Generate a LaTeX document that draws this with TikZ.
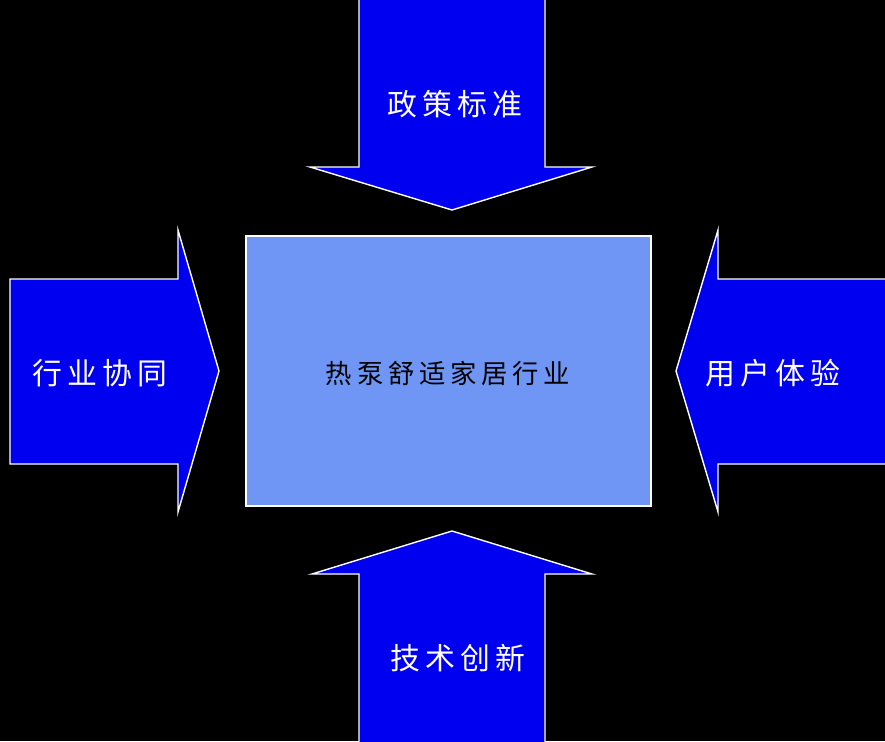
\documentclass[tikz,border=0pt]{standalone}
\usepackage{fontspec}
\newfontfamily\cjk[LetterSpace=18]{Noto Sans CJK SC}
\usetikzlibrary{positioning}
\definecolor{arrowblue}{RGB}{0,0,240}
\definecolor{boxblue}{RGB}{111,150,245}
\tikzset{
  bigarrow/.style={draw=white,fill=arrowblue,line width=0.8pt},
  arrowlabel/.style={text=white,font=\cjk\fontsize{17}{20}\selectfont},
  core/.style={draw=white,fill=boxblue,line width=0.8pt,minimum width=8.1cm,minimum height=5.4cm,font=\cjk\fontsize{15}{18}\selectfont}
}
\begin{document}
\begin{tikzpicture}[x=0.02cm,y=-0.02cm]
  \fill[black] (0,0) rectangle (885,741);
  \useasboundingbox (0,0) rectangle (885,741);

  % centre box
  \node[core] (hub) at (448.5,371) {};
  \node[font=\cjk\fontsize{15}{18}\selectfont] (hubtext) at (448,373) {热泵舒适家居行业};

  % top
  \draw[bigarrow] (359,-2) -- (545,-2) -- (545,167) -- (592,167) -- (452,210)
    -- (310,167) -- (359,167) -- cycle;
  \node[arrowlabel] (policy) at (455,104) {政策标准};

  % bottom
  \draw[bigarrow] (359,743) -- (545,743) -- (545,574) -- (592,574) -- (452,531)
    -- (312,574) -- (359,574) -- cycle;
  \node[arrowlabel] (tech) at (458,658) {技术创新};

  % left
  \draw[bigarrow] (10,279) -- (178,279) -- (178,230) -- (219,371) -- (178,512)
    -- (178,464) -- (10,464) -- cycle;
  \node[arrowlabel] (industry) at (100,373) {行业协同};

  % right
  \draw[bigarrow] (887,279) -- (718,279) -- (718,230) -- (676,371) -- (718,512)
    -- (718,464) -- (887,464) -- cycle;
  \node[arrowlabel] (user) at (773,373) {用户体验};
\end{tikzpicture}
\end{document}
